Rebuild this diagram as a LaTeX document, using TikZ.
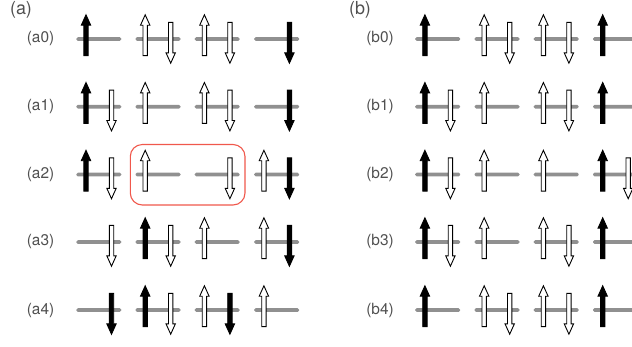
\documentclass[tikz,border=0pt]{standalone}
\usepackage{fontspec}
\setmainfont{TeX Gyre Heros}
\definecolor{levelgray}{HTML}{909090}
\definecolor{labelgray}{HTML}{505050}
\definecolor{boxred}{HTML}{F0584C}
\tikzset{
  spin/.pic={\path[pic actions] (-2.2,16.6) -- (-2.2,-13.8) -- (-4.7,-13.8) -- (0,-24.2) -- (4.7,-13.8) -- (2.2,-13.8) -- (2.2,16.6) -- cycle;},
  blackspin/.style={draw=black,fill=black,line width=.9bp},
  whitespin/.style={draw=black,fill=white,line width=.9bp},
  level/.style={rectangle,fill=levelgray,inner sep=0,minimum width=45bp,minimum height=3.6bp,rounded corners=1.5bp},
  rowlabel/.style={text=labelgray,font=\fontsize{15.5}{15.5}\selectfont},
  panellabel/.style={text=labelgray,font=\fontsize{18}{18}\selectfont}
}
\begin{document}
\begin{tikzpicture}[x=1bp,y=-1bp]
  \useasboundingbox (0,0) rectangle (632,346);
  \node[panellabel] (pa) at (21,10) {(a)};
  \node[panellabel] (pb) at (360,10) {(b)};

  % rows and levels
  \foreach \r/\y in {0/39,1/106.7,2/174.5,3/242,4/310} {
    \node[rowlabel] (la\r) at (40.5,\y) {(a\r)};
    \node[rowlabel] (lb\r) at (380,\y) {(b\r)};
    \foreach \c/\x in {1/98.8,2/158,3/217.2,4/276.7}
      \node[level] (a\r-\c) at (\x,\y) {};
    \foreach \c/\x in {1/437.7,2/497,3/556.2,4/615.5}
      \node[level] (b\r-\c) at (\x,\y) {};
  }

  \draw[boxred,line width=1.1bp,rounded corners=12bp] (130.3,144.5) rectangle (245,205);

  % black up
  \foreach \n in {a0-1,a1-1,a2-1,a3-2,a4-2,b0-1,b0-4,b1-1,b1-4,b2-1,b2-4,b3-1,b3-4,b4-1,b4-4}
    \pic[blackspin,xshift=-12.8bp] at (\n) {spin};
  % black down
  \foreach \n in {a0-4,a1-4,a2-4,a3-4,a4-1,a4-3}
    \pic[blackspin,xshift=12.7bp,yscale=-1] at (\n) {spin};
  % white up
  \foreach \n in {a0-2,a0-3,a1-2,a1-3,a2-2,a2-4,a3-3,a3-4,a4-3,a4-4,b0-2,b0-3,b1-2,b1-3,b2-2,b2-3,b3-2,b3-3,b4-2,b4-3}
    \pic[whitespin,xshift=-12.8bp] at (\n) {spin};
  % white down
  \foreach \n in {a0-2,a0-3,a1-1,a1-3,a2-1,a2-3,a3-1,a3-2,a4-2,b0-2,b0-3,b1-1,b1-3,b2-1,b2-4,b3-1,b3-3,b4-2,b4-3}
    \pic[whitespin,xshift=12.7bp,yscale=-1] at (\n) {spin};
\end{tikzpicture}
\end{document}
